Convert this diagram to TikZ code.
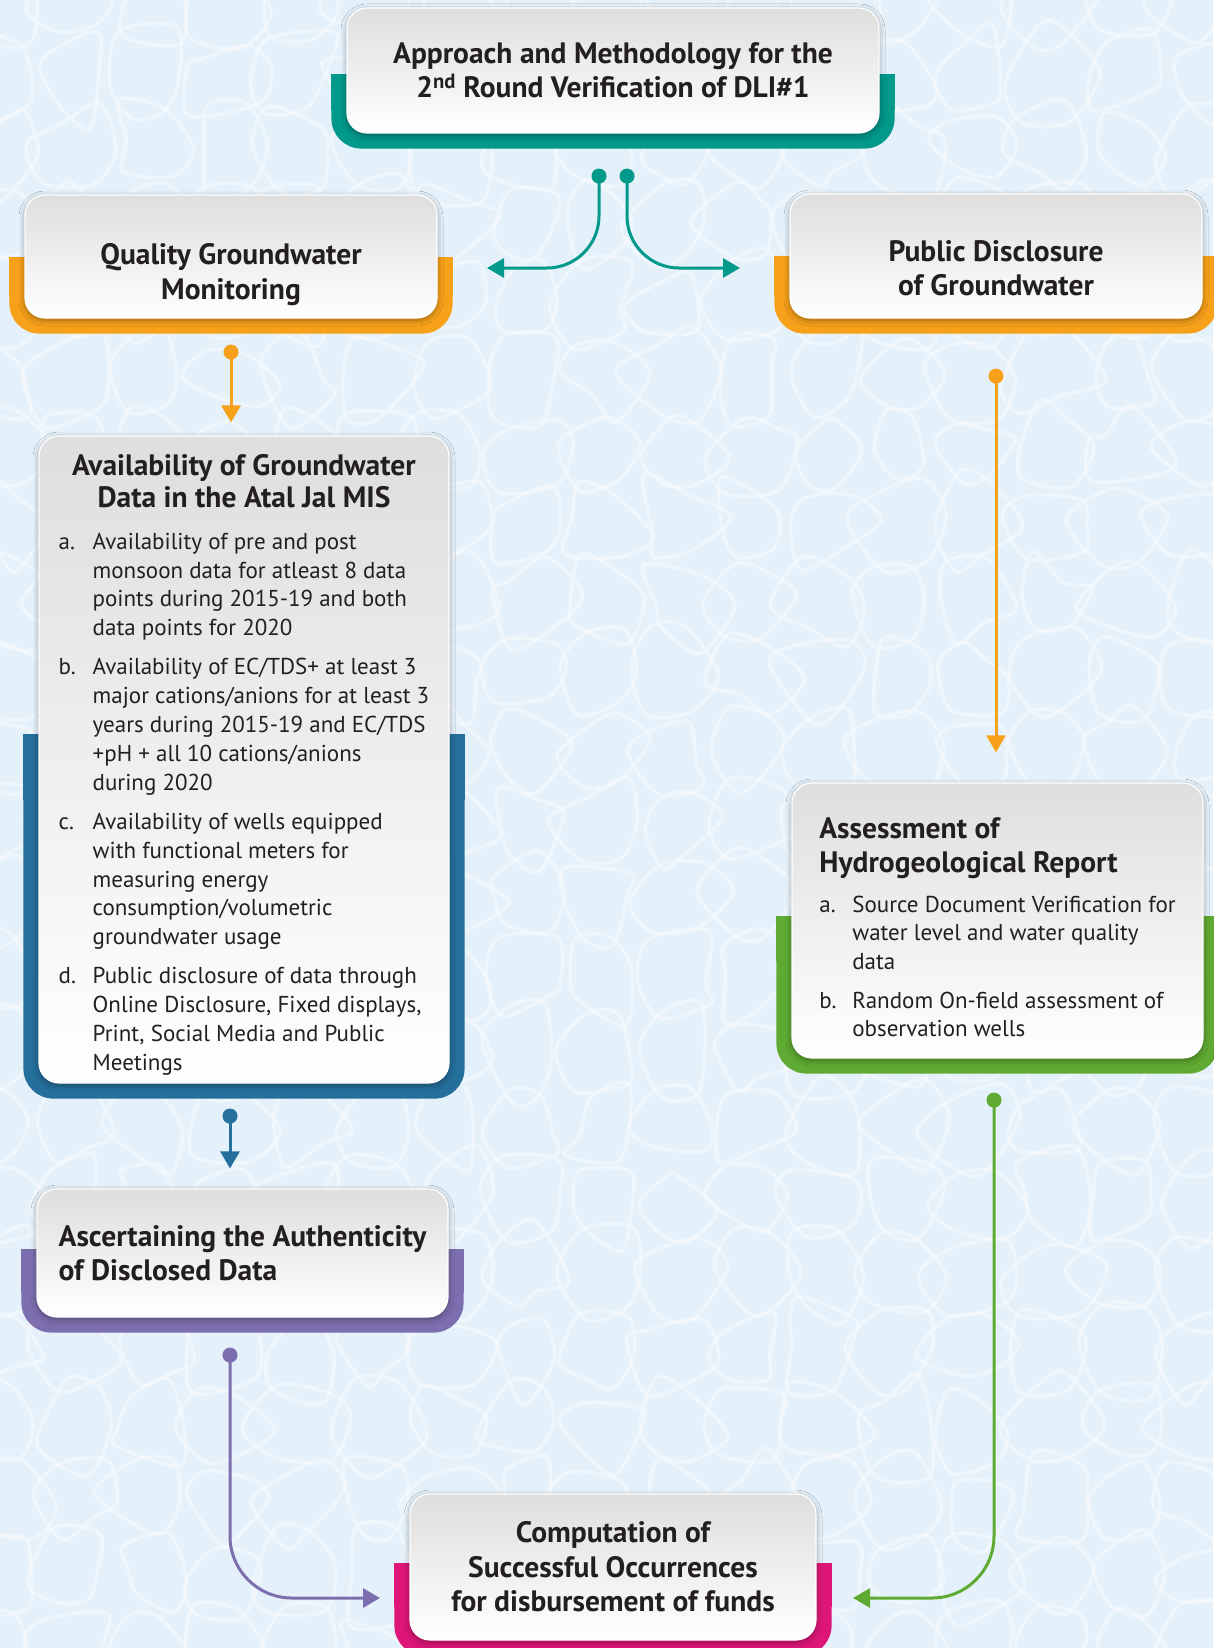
\documentclass[tikz,border=0pt]{standalone}
\usepackage{fontspec}
\setmainfont{PT Sans}
\usetikzlibrary{arrows.meta,shadows.blur}

\definecolor{ajteal}{RGB}{0,153,138}
\definecolor{ajorange}{RGB}{247,161,26}
\definecolor{ajblue}{RGB}{36,111,156}
\definecolor{ajgreen}{RGB}{95,170,50}
\definecolor{ajpurple}{RGB}{125,111,175}
\definecolor{ajpink}{RGB}{222,22,120}
\definecolor{ajtext}{RGB}{35,31,32}
\definecolor{cardgray}{RGB}{222,222,222}
\definecolor{water}{RGB}{229,241,250}

\pgfdeclarelayer{bg}
\pgfsetlayers{bg,main}

\newcommand\headfont{\fontsize{29.5}{34.5}\selectfont\bfseries}
\newcommand\bodyfont{\fontsize{23}{28.8}\selectfont}

% coloured foot behind a card: node, colour, lift of its top edge
\newcommand\cardfoot[3]{%
  \fill[#2,rounded corners=30pt] ([xshift=-15pt,yshift=#3]#1.west) rectangle ([xshift=15pt,yshift=-15pt]#1.south east);
  \fill[#2] ([xshift=-15pt,yshift=#3]#1.west) rectangle ([xshift=15pt,yshift=-40pt]#1.east);}

\tikzset{
  card/.style={rounded corners=20pt, draw=white, line width=1.2pt,
    top color=cardgray, bottom color=white, text=ajtext, inner sep=0pt,
    blur shadow={shadow xshift=0pt, shadow yshift=-2pt, shadow blur radius=6pt, shadow opacity=40}},
  link/.style={line width=3pt, {Circle[length=15pt]}-{Triangle[length=17pt,width=19pt]}},
  ripple/.style={white, line width=3.5pt, opacity=0.35},
}

\begin{document}
\begin{tikzpicture}[x=1pt,y=-1pt]
\useasboundingbox (0,0) rectangle (1213,1648);

% cards
\node[card, minimum width=532pt, minimum height=125pt, align=center, font=\headfont] (apr) at (613,70.5)
  {Approach and Methodology for the\\2\textsuperscript{nd} Round Verification of DLI\#1};
\node[card, minimum width=412pt, minimum height=123pt, align=center, font=\headfont] (qgm) at (231,256.5)
  {\rule{0pt}{57pt}Quality Groundwater\\Monitoring};
\node[card, minimum width=412pt, minimum height=124pt, align=center, font=\headfont] (pdg) at (996,256)
  {\rule{0pt}{45pt}Public Disclosure\\of Groundwater};
\node[card, minimum width=410pt, minimum height=647pt, font=\bodyfont] (agd) at (244,759.5)
  {\begin{tabular}{@{}p{34pt}@{}l@{}}
  \multicolumn{2}{@{}c@{}}{\headfont\rule{0pt}{36pt}Availability of Groundwater}\\[2pt]
  \multicolumn{2}{@{}c@{}}{\headfont Data in the Atal Jal MIS}\\[12.8pt]
  a. & Availability of pre and post\\
     & monsoon data for atleast 8 data\\
     & points during 2015-19 and both\\
     & data points for 2020\\[10.5pt]
  b. & Availability of EC/TDS+ at least 3\\
     & major cations/anions for at least 3\\
     & years during 2015-19 and EC/TDS\\
     & +pH + all 10 cations/anions\\
     & during 2020\\[10.5pt]
  c. & Availability of wells equipped\\
     & with functional meters for\\
     & measuring energy\\
     & consumption/volumetric\\
     & groundwater usage\\[10.5pt]
  d. & Public disclosure of data through\\
     & Online Disclosure, Fixed displays,\\
     & Print, Social Media and Public\\
     & Meetings
  \end{tabular}};
\node[card, minimum width=411pt, minimum height=275pt, font=\bodyfont] (ahr) at (997.5,920.5)
  {\begin{tabular}{@{}p{33pt}@{}l@{}}
  \multicolumn{2}{@{}l@{}}{\headfont\rule{0pt}{43pt}Assessment of}\\[4.4pt]
  \multicolumn{2}{@{}l@{}}{\headfont Hydrogeological Report}\\[10.8pt]
  a. & Source Document Verification for\\
     & water level and water quality\\
     & data\\[9.5pt]
  b. & Random On-field assessment of\\
     & observation wells
  \end{tabular}};
\node[card, minimum width=411pt, minimum height=128pt, align=left, font=\headfont] (adt) at (242.5,1253)
  {Ascertaining the Authenticity\\of Disclosed Data};
\node[card, minimum width=406pt, minimum height=146pt, align=center, font=\headfont] (csf) at (613,1567)
  {Computation of\\Successful Occurrences\\for disbursement of funds};

% water and coloured feet
\begin{pgfonlayer}{bg}
  \fill[water] (0,0) rectangle (1213,1648);
  \pgfmathsetseed{11}
  \foreach \i in {0,...,16}
    \foreach \j in {0,...,22}
      \draw[ripple] plot[smooth cycle, variable=\t, samples at={0,60,...,300}]
        ({\i*75+12*rand+(40+10*rand)*cos(\t)}, {\j*75+12*rand+(40+10*rand)*sin(\t)});
  \cardfoot{apr}{ajteal}{-4pt}
  \cardfoot{qgm}{ajorange}{0pt}
  \cardfoot{pdg}{ajorange}{0pt}
  \cardfoot{agd}{ajblue}{26pt}
  \cardfoot{ahr}{ajgreen}{5pt}
  \cardfoot{adt}{ajpurple}{4pt}
  \cardfoot{csf}{ajpink}{4pt}
\end{pgfonlayer}

% connectors
\coordinate (qgmIn) at (487,268);
\coordinate (pdgIn) at (740,268);
\coordinate (csfL) at (380,1598);
\coordinate (csfR) at (853,1598);
\draw[link, ajteal, rounded corners=52pt] ([xshift=-14pt,yshift=-35pt]apr.south) |- (qgmIn);
\draw[link, ajteal, rounded corners=52pt] ([xshift=14pt,yshift=-35pt]apr.south) |- (pdgIn);
\draw[link, ajorange, shorten <=26pt, shorten >=13pt] (qgm.south) -- (qgm.south |- agd.north);
\draw[link, ajorange, shorten <=50pt, shorten >=30pt] (pdg.south) -- (pdg.south |- ahr.north);
\draw[link, ajblue, shorten <=25pt, shorten >=20pt] ([xshift=-14pt]agd.south) -- ([xshift=-14pt]agd.south |- adt.north);
\draw[link, ajpurple, rounded corners=62pt] ([xshift=-12.5pt,yshift=-30pt]adt.south) |- (csfL);
\draw[link, ajgreen, rounded corners=62pt] ([xshift=-3.5pt,yshift=-34pt]ahr.south) |- (csfR);
\end{tikzpicture}
\end{document}
